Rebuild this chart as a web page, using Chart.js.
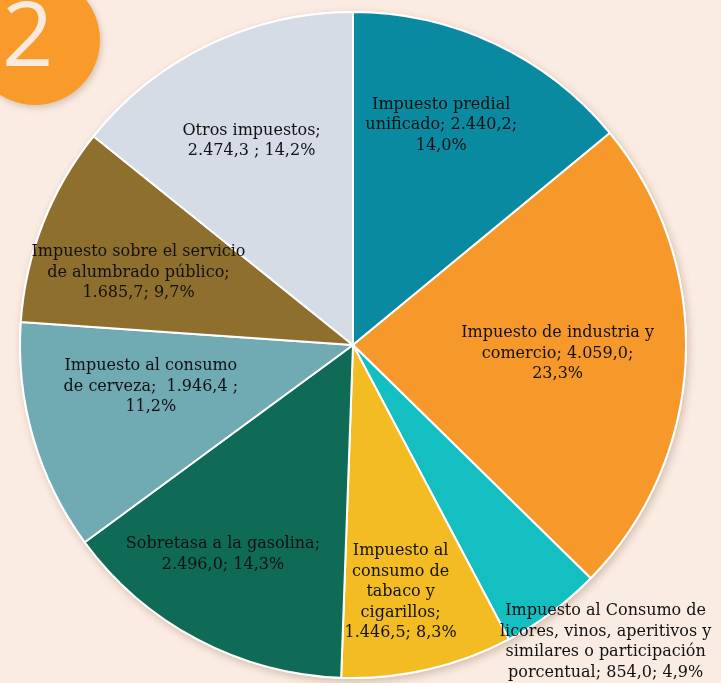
<!DOCTYPE html>
<html>
<head>
<meta charset="utf-8">
<script src="https://cdn.jsdelivr.net/npm/chart.js@4.4.0/dist/chart.umd.min.js"></script>
<style>
  html, body { margin: 0; padding: 0; background: #fbece3; }
  #wrap { position: relative; width: 721px; height: 683px; overflow: hidden; }
  #badge {
    position: absolute; left: -30px; top: -25px; width: 130px; height: 130px;
    border-radius: 50%; background: #f89b2b;
    box-shadow: 2px 3px 6px rgba(120, 80, 50, 0.25);
  }
  #badge span {
    position: absolute; left: 32px; top: 6px;
    font-family: "Open Sans", "DejaVu Sans", sans-serif; font-size: 90px; line-height: 100px;
    color: #fbe9dc;
  }
</style>
</head>
<body>
<div id="wrap">
  <canvas id="pieChart" width="721" height="683"></canvas>
  <div id="badge"><span>2</span></div>
</div>
<script>
/* ── Recaudo por impuesto — pie ─────────────────────────── */

var categorias = [
  ['Impuesto predial', 'unificado; 2.440,2;', '14,0%'],
  ['Impuesto de industria y', 'comercio; 4.059,0;', '23,3%'],
  ['Impuesto al Consumo de', 'licores, vinos, aperitivos y', 'similares o participación', 'porcentual; 854,0; 4,9%'],
  ['Impuesto al', 'consumo de', 'tabaco y', 'cigarillos;', '1.446,5; 8,3%'],
  ['Sobretasa a la gasolina;', '2.496,0; 14,3%'],
  ['Impuesto al consumo', 'de cerveza;  1.946,4 ;', '11,2%'],
  ['Impuesto sobre el servicio', 'de alumbrado público;', '1.685,7; 9,7%'],
  ['Otros impuestos;', '2.474,3 ; 14,2%']
];
var valores = [2440.2, 4059.0, 854.0, 1446.5, 2496.0, 1946.4, 1685.7, 2474.3];
var colores = ['#0a8aa0', '#f7992a', '#14bfc2', '#f3bc22', '#106b56', '#70abb4', '#8e6f2e', '#d6dce6'];

// label placement: radius as fraction of outer radius, angle tweak in degrees
var labelRadio = [0.712, 0.615, 1.17, 0.755, 0.74, 0.62, 0.68, 0.685];
var labelGiro  = [-3.4, 0, -3.7, 2, 4, 4.5, -2.7, -0.8];

var sombra = {
  id: 'sombra',
  beforeDatasetsDraw: function (chart) {
    var arc = chart.getDatasetMeta(0).data[0];
    if (!arc) return;
    var c = chart.ctx;
    c.save();
    c.shadowColor = 'rgba(110, 70, 40, 0.28)';
    c.shadowBlur = 8;
    c.shadowOffsetX = 2;
    c.shadowOffsetY = 3;
    c.fillStyle = '#ffffff';
    c.beginPath();
    c.arc(arc.x, arc.y, arc.outerRadius + 1, 0, Math.PI * 2);
    c.fill();
    c.restore();
  }
};

var etiquetas = {
  id: 'etiquetas',
  afterDatasetsDraw: function (chart) {
    var c = chart.ctx;
    var meta = chart.getDatasetMeta(0);
    c.save();
    c.font = '16px "DejaVu Serif", Georgia, serif';
    c.fillStyle = '#111111';
    c.textAlign = 'center';
    c.textBaseline = 'middle';
    meta.data.forEach(function (arc, i) {
      var mid = (arc.startAngle + arc.endAngle) / 2 + labelGiro[i] * Math.PI / 180;
      var r = arc.outerRadius * labelRadio[i];
      var x = arc.x + Math.cos(mid) * r;
      var y = arc.y + Math.sin(mid) * r;
      var lines = categorias[i];
      var lh = 20.5;
      var y0 = y - (lines.length - 1) * lh / 2;
      lines.forEach(function (t, k) { c.fillText(t, x, y0 + k * lh); });
    });
    c.restore();
  }
};

new Chart(document.getElementById('pieChart'), {
  type: 'pie',
  data: {
    labels: categorias.map(function (l) { return l.join(' '); }),
    datasets: [{
      data: valores,
      backgroundColor: colores,
      borderColor: '#ffffff',
      borderWidth: 2
    }]
  },
  options: {
    responsive: false,
    animation: false,
    layout: { padding: { left: 19, top: 11, right: 34, bottom: 4 } },
    plugins: {
      legend: { display: false },
      tooltip: { enabled: false }
    }
  },
  plugins: [sombra, etiquetas]
});
</script>
</body>
</html>
